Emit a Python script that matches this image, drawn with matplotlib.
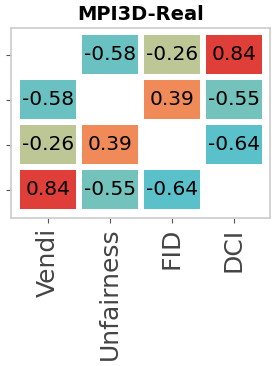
import numpy as np
import matplotlib
matplotlib.use("Agg")
import matplotlib.pyplot as plt
from matplotlib.colors import LinearSegmentedColormap

metrics = ["Vendi", "Unfairness", "FID", "DCI"]
corr = np.array([
    [np.nan, -0.58, -0.26, 0.84],
    [-0.58, np.nan, 0.39, -0.55],
    [-0.26, 0.39, np.nan, -0.64],
    [0.84, -0.55, -0.64, np.nan],
])

cmap = LinearSegmentedColormap.from_list("corr", [
    (0.00, "#3bb6d6"),
    (0.18, "#5ac0ca"),
    (0.225, "#74c2bb"),
    (0.37, "#bec796"),
    (0.50, "#e4bf84"),
    (0.695, "#f08a58"),
    (0.92, "#e03e38"),
    (1.00, "#d42e30"),
])

fig = plt.figure(figsize=(2.74, 3.66), dpi=100)
ax = fig.add_axes([0.040, 0.4044, 0.945, 0.5191])

data = np.ma.masked_invalid(corr)
ax.pcolormesh(np.arange(5) - 0.5, np.arange(5) - 0.5, data, cmap=cmap,
              vmin=-1, vmax=1, edgecolors="white", linewidth=3)

for i in range(4):
    for j in range(4):
        if not np.isnan(corr[i, j]):
            ax.text(j, i, f"{corr[i, j]:.2f}", ha="center", va="center",
                    fontsize=14.5, color="black")

ax.set_xlim(-0.597, 3.58)
ax.set_ylim(3.63, -0.59)
ax.set_xticks(range(4))
ax.set_xticklabels(metrics, rotation=90, fontsize=18, color="#444444")
ax.set_yticks(range(4))
ax.set_yticklabels([])
ax.tick_params(colors="#555555", length=3.5, width=0.8, labelcolor="#444444")
for s in ax.spines.values():
    s.set_color("#cccccc")
    s.set_linewidth(1.2)
ax.set_title("MPI3D-Real", fontsize=14, fontweight="bold", pad=6)

fig.savefig("out.png", dpi=100)
